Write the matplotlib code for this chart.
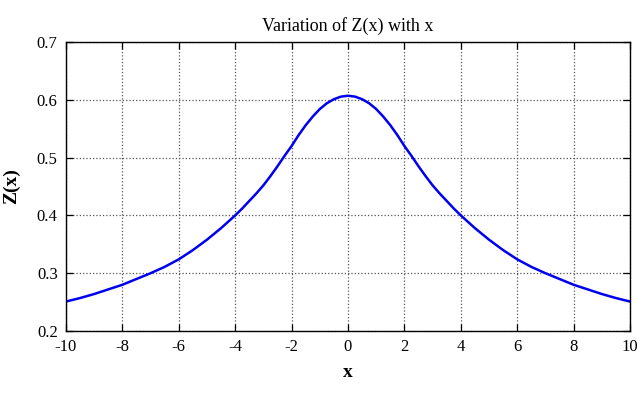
import matplotlib
matplotlib.use("Agg")
import matplotlib.pyplot as plt

# values (symmetric about x = 0)
x_vals = [-10, -9.5, -9, -8.5, -8, -7.5, -7, -6.5, -6, -5.5, -5, -4.5, -4,
          -3.75, -3.5, -3.25, -3, -2.75, -2.5, -2.25, -2, -1.75, -1.5, -1.25,
          -1, -0.75, -0.5, -0.25, 0,
          0.25, 0.5, 0.75, 1, 1.25, 1.5, 1.75, 2, 2.25, 2.5, 2.75, 3, 3.25,
          3.5, 3.75, 4, 4.5, 5, 5.5, 6, 6.5, 7, 7.5, 8, 8.5, 9, 9.5, 10]
z_vals = [0.251, 0.257, 0.264, 0.272, 0.280, 0.290, 0.300, 0.311, 0.324,
          0.340, 0.358, 0.378, 0.400,
          0.412, 0.425, 0.438, 0.452, 0.468, 0.485, 0.503, 0.520, 0.539,
          0.556, 0.571, 0.584, 0.594, 0.601, 0.6055, 0.607,
          0.6055, 0.601, 0.594, 0.584, 0.571, 0.556, 0.539, 0.520, 0.503,
          0.485, 0.468, 0.452, 0.438, 0.425, 0.412, 0.400, 0.378, 0.358,
          0.340, 0.324, 0.311, 0.300, 0.290, 0.280, 0.272, 0.264, 0.257,
          0.251]

x_ticks = [-10, -8, -6, -4, -2, 0, 2, 4, 6, 8, 10]
y_ticks = [0.2, 0.3, 0.4, 0.5, 0.6, 0.7]

plt.rcParams["font.family"] = ["Liberation Serif", "DejaVu Serif"]
plt.rcParams["axes.unicode_minus"] = False

fig = plt.figure(figsize=(6.38, 3.95), dpi=100)
ax = fig.add_axes([0.1034, 0.162, 0.8841, 0.7317])

ax.plot(x_vals, z_vals, color="#0000ee", linewidth=1.8,
        solid_joinstyle="round")

ax.set_xlim(-10, 10)
ax.set_ylim(0.2, 0.7)
ax.set_xticks(x_ticks)
ax.set_yticks(y_ticks)
ax.set_xticklabels([str(t) for t in x_ticks])
ax.set_yticklabels([f"{t:.1f}" for t in y_ticks])
ax.tick_params(direction="in", length=5, width=0.9, top=True, right=True,
               labelsize=12, pad=6)
ax.grid(True, linestyle=":", color="#555555", linewidth=0.9)
for s in ax.spines.values():
    s.set_linewidth(1.0)

ax.set_title("Variation of Z(x) with x", fontsize=13, pad=8)
ax.set_xlabel("x", fontsize=14, fontweight="bold", labelpad=6)
ax.set_ylabel("Z(x)", fontsize=14, fontweight="bold", labelpad=12)

fig.savefig("out.png", dpi=100)
